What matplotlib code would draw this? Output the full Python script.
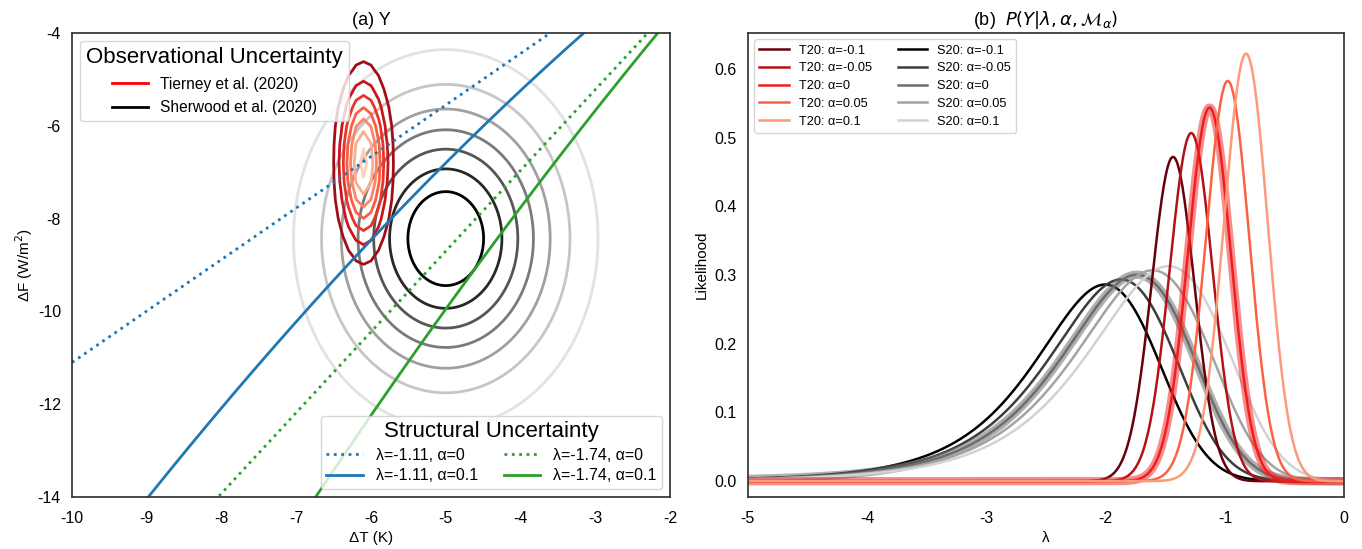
import numpy as np
import matplotlib
matplotlib.use("Agg")
import matplotlib.pyplot as plt
from matplotlib.lines import Line2D

plt.rcParams['font.family'] = ['Liberation Sans', 'DejaVu Sans']
plt.rcParams['axes.unicode_minus'] = False

# ---------------- data ----------------
# observational estimates (mean, 1-sigma) of LGM temperature change and forcing
t20_dT_mean, t20_dT_sd = -6.1, 0.2
t20_dF_mean, t20_dF_sd = -6.8, 1.08
s20_dT_mean, s20_dT_sd = -5.0, 1.0
s20_dF_mean, s20_dF_sd = -8.43, 2.0
t20_levels = [0.1, 0.2, 0.3, 0.4, 0.5, 0.6, 0.7]
s20_levels = [0.01, 0.02, 0.03, 0.04, 0.05, 0.06, 0.07]

# structural-uncertainty lines
line_lambdas = [-1.11, -1.11, -1.74, -1.74]
line_alphas = [0, 0.1, 0, 0.1]
line_colors = ['#1f77b4', '#1f77b4', '#2ca02c', '#2ca02c']
line_styles = [':', '-', ':', '-']

# likelihood panel
alphas = [-0.1, -0.05, 0, 0.05, 0.1]
alpha_labels = ['-0.1', '-0.05', '0', '0.05', '0.1']
t20_colors = ['#67000d', '#b3121a', '#f01e1e', '#fb6244', '#fc9a7c']
s20_colors = ['#000000', '#3d3d3d', '#6e6e6e', '#a3a3a3', '#d2d2d2']


def gauss(x, m, s):
    return np.exp(-0.5 * ((x - m) / s) ** 2) / (s * np.sqrt(2 * np.pi))


def likelihood(lams, a, mT, sT, mF, sF):
    T = np.linspace(-16, -0.01, 4000)
    out = []
    for lam in lams:
        F = -(lam * T + 0.5 * a * T ** 2)
        dF = -(lam + a * T)
        integrand = gauss(T, mT, sT) * gauss(F, mF, sF) * np.sqrt(1 + dF ** 2)
        out.append(np.trapezoid(integrand, T))
    return np.array(out)


fig = plt.figure(figsize=(13.62, 5.49), dpi=100)
ax1 = fig.add_axes([0.0529, 0.0947, 0.439, 0.845])
ax2 = fig.add_axes([0.549, 0.0947, 0.438, 0.845])

for ax in (ax1, ax2):
    for sp in ax.spines.values():
        sp.set_color('#333333')
        sp.set_linewidth(1.25)
    ax.tick_params(length=0, labelsize=11.5)
    ax.tick_params(axis='x', pad=10)
    ax.tick_params(axis='y', pad=8)

# ---------------- panel (a) ----------------
Ts = np.linspace(-10, -2, 300)
Fs = np.linspace(-16, -2, 300)
TT, FF = np.meshgrid(Ts, Fs)
Zs = gauss(TT, s20_dT_mean, s20_dT_sd) * gauss(FF, s20_dF_mean, s20_dF_sd)
ax1.contour(TT, FF, Zs, levels=s20_levels,
            colors=plt.cm.Greys(np.linspace(0.2, 1.0, len(s20_levels))),
            linewidths=2)

Tc = np.arange(-10, -1.95, 0.1)
Fc = np.arange(-16, -1.9, 0.4)
TTc, FFc = np.meshgrid(Tc, Fc)
Zt = gauss(TTc, t20_dT_mean, t20_dT_sd) * gauss(FFc, t20_dF_mean, t20_dF_sd)
ax1.contour(TTc, FFc, Zt, levels=t20_levels,
            colors=plt.cm.Reds(np.linspace(0.88, 0.18, len(t20_levels))),
            linewidths=2)

Tl = np.linspace(-10, -2, 400)
struct_handles = []
for lam, a, c, ls in zip(line_lambdas, line_alphas, line_colors, line_styles):
    h, = ax1.plot(Tl, -(lam * Tl + 0.5 * a * Tl ** 2), color=c, ls=ls, lw=2,
                  label=f'λ={lam}, α={a}')
    struct_handles.append(h)

ax1.set_xlim(-10, -2)
ax1.set_ylim(-14, -4)
ax1.set_xticks(range(-10, -1))
ax1.set_yticks(range(-14, -3, 2))
ax1.set_xlabel('ΔT (K)', fontsize=11)
ax1.set_ylabel('ΔF (W/m$^2$)', fontsize=11, labelpad=2)
ax1.set_title('(a) Y', fontsize=13)

obs_handles = [Line2D([], [], color='red', lw=2), Line2D([], [], color='black', lw=2)]
leg1 = ax1.legend(obs_handles, ['Tierney et al. (2020)', 'Sherwood et al. (2020)'],
                  title='Observational Uncertainty', loc='upper left',
                  fontsize=11.2, title_fontsize=16, borderpad=0.4, labelspacing=0.55,
                  handlelength=2.3)
ax1.add_artist(leg1)
ax1.legend(handles=struct_handles, title='Structural Uncertainty', loc='lower right',
           ncol=2, fontsize=11.5, title_fontsize=16, columnspacing=1.6,
           handlelength=2.3, labelspacing=0.35, borderpad=0.35)

# ---------------- panel (b) ----------------
lams = np.linspace(-5, 0, 1001)
t20_handles, s20_handles = [], []
for a, lab, c in zip(alphas, alpha_labels, s20_colors):
    y = likelihood(lams, a, s20_dT_mean, s20_dT_sd, s20_dF_mean, s20_dF_sd)
    if a == 0:
        ax2.plot(lams, y, color=c, lw=6, alpha=0.55, solid_capstyle='butt')
    h, = ax2.plot(lams, y, color=c, lw=1.8, label=f'S20: α={lab}')
    s20_handles.append(h)
for a, lab, c in zip(alphas, alpha_labels, t20_colors):
    y = likelihood(lams, a, t20_dT_mean, t20_dT_sd, t20_dF_mean, t20_dF_sd)
    if a == 0:
        ax2.plot(lams, y, color=c, lw=6, alpha=0.5, solid_capstyle='butt')
    h, = ax2.plot(lams, y, color=c, lw=1.8, label=f'T20: α={lab}')
    t20_handles.append(h)

ax2.set_xlim(-5, 0)
ax2.set_ylim(-0.023, 0.652)
ax2.set_yticks(np.arange(0, 0.61, 0.1))
ax2.set_xlabel('λ', fontsize=11)
ax2.set_ylabel('Likelihood', fontsize=11)
ax2.set_title(r'(b)  $P(Y|\lambda, \alpha, \mathcal{M}_\alpha)$', fontsize=13)
ax2.legend(handles=t20_handles + s20_handles, loc='upper left', ncol=2, fontsize=9.2,
           columnspacing=2.0, labelspacing=0.45, handlelength=2.3)

fig.savefig('out.png', dpi=100)
